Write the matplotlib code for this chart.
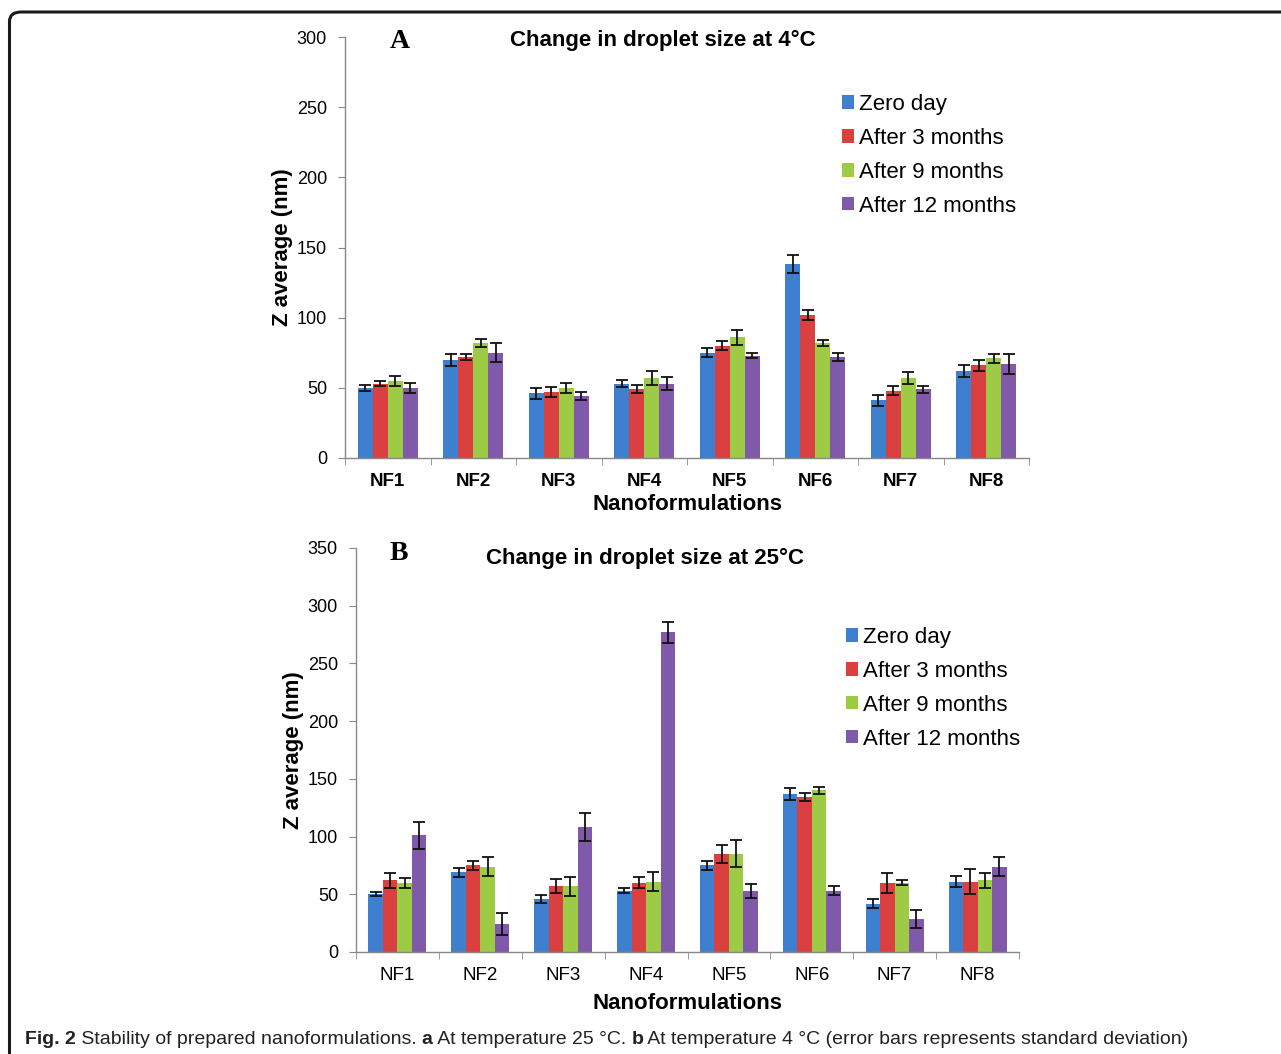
import matplotlib
matplotlib.use("Agg")
import matplotlib.pyplot as plt
from matplotlib.patches import FancyBboxPatch, Patch
import numpy as np

categories = ["NF1", "NF2", "NF3", "NF4", "NF5", "NF6", "NF7", "NF8"]
series = ["Zero day", "After 3 months", "After 9 months", "After 12 months"]
colors = ["#3F7FD0", "#DA4040", "#9DCB45", "#8059AA"]

# Panel A: 4 °C
a_zero = [50, 70, 46, 53, 75, 138, 41, 62]
a_3m = [53, 72, 47, 49, 80, 102, 48, 66]
a_9m = [55, 82, 50, 57, 86, 82, 57, 71]
a_12m = [50, 75, 44, 53, 73, 72, 49, 67]
a_zero_sd = [2.0, 4.3, 3.9, 2.4, 3.3, 6.3, 3.9, 4.6]
a_3m_sd = [2.0, 2.3, 3.6, 3.0, 3.3, 3.8, 3.2, 4.0]
a_9m_sd = [3.4, 3.0, 3.6, 5.2, 5.2, 2.1, 4.0, 3.1]
a_12m_sd = [3.4, 6.8, 3.0, 4.9, 1.8, 3.1, 2.6, 7.1]

# Panel B: 25 °C
b_zero = [50, 69, 46, 53, 75, 137, 42, 61]
b_3m = [62, 75, 57, 60, 85, 134, 60, 61]
b_9m = [60, 74, 57, 61, 85, 140, 60, 62]
b_12m = [101, 24, 108, 277, 53, 53, 29, 74]
b_zero_sd = [1.9, 3.9, 3.6, 2.2, 3.6, 4.9, 4.2, 4.5]
b_3m_sd = [6.6, 3.6, 5.9, 4.9, 7.9, 3.5, 8.7, 10.8]
b_9m_sd = [4.5, 7.9, 8.2, 8.2, 11.7, 2.9, 2.0, 6.6]
b_12m_sd = [11.4, 9.4, 12.1, 9.1, 6.1, 3.8, 7.8, 7.9]

W, H = 1281, 1054
fig = plt.figure(figsize=(W / 100, H / 100), dpi=100)
plt.rcParams["font.family"] = ["Liberation Sans", "DejaVu Sans"]

# frame
frame = FancyBboxPatch((9.5 / W, -0.05), 1.2, (1054 - 12) / H + 0.05,
                       boxstyle="round,pad=0,rounding_size=0.009",
                       transform=fig.transFigure, fill=False,
                       edgecolor="#1a1a1a", linewidth=2.2, clip_on=False)
fig.patches.append(frame)


def panel(rect, vals, sds, ymax, bold_ticks, xlabelpad, ylabelpad, legend_xy):
    ax = fig.add_axes(rect)
    x = np.arange(len(categories))
    w = 0.175
    for i, (v, s) in enumerate(zip(vals, sds)):
        ax.bar(x + (i - 1.5) * w, v, w, color=colors[i], label=series[i],
               yerr=s, capsize=4.2,
               error_kw=dict(ecolor="#111111", elinewidth=1.3, capthick=1.3),
               zorder=2)
    ax.set_xlim(-0.5, len(categories) - 0.5)
    ax.set_ylim(0, ymax)
    ax.set_yticks(np.arange(0, ymax + 1, 50))
    ax.set_xticks(x)
    ax.set_xticklabels(categories, fontsize=13.5,
                       fontweight="bold" if bold_ticks else "normal")
    ax.set_xticks(np.arange(-0.5, len(categories)), minor=True)
    ax.tick_params(axis="x", which="major", length=0, pad=11)
    ax.tick_params(axis="x", which="minor", length=5, color="#888888", direction="out")
    ax.tick_params(axis="y", length=5, color="#888888", labelsize=13, pad=8)
    for sp in ["top", "right"]:
        ax.spines[sp].set_visible(False)
    for sp in ["left", "bottom"]:
        ax.spines[sp].set_color("#888888")
        ax.spines[sp].set_linewidth(1.0)
    ax.set_xlabel("Nanoformulations", fontsize=16, fontweight="bold", labelpad=xlabelpad)
    ax.set_ylabel("Z average (nm)", fontsize=16, fontweight="bold", labelpad=ylabelpad)
    handles = [Patch(facecolor=c) for c in colors]
    lx, ly = legend_xy
    ax.legend(handles, series, loc="upper left",
              bbox_to_anchor=(lx / W, 1 - ly / H), bbox_transform=fig.transFigure,
              frameon=False, fontsize=16, handlelength=0.55, handleheight=0.55,
              handletextpad=0.2, labelspacing=0.58, borderaxespad=0)
    return ax


ax1 = panel([345 / W, 1 - 458 / H, (1029 - 345) / W, (458 - 37) / H],
            [a_zero, a_3m, a_9m, a_12m],
            [a_zero_sd, a_3m_sd, a_9m_sd, a_12m_sd], 300, True, 3, 3, (833, 85))
ax2 = panel([356 / W, 1 - 952 / H, (1019 - 356) / W, (952 - 548) / H],
            [b_zero, b_3m, b_9m, b_12m],
            [b_zero_sd, b_3m_sd, b_9m_sd, b_12m_sd], 350, False, 6, 3, (837, 618))

# titles and letters
fig.text(663 / W, 1 - 40 / H, "Change in droplet size at 4°C", ha="center", va="center",
         fontsize=16, fontweight="bold")
fig.text(400 / W, 1 - 41 / H, "A", ha="center", va="center", fontsize=20,
         fontweight="bold", family=["Liberation Serif", "DejaVu Serif"])
fig.text(645 / W, 1 - 558 / H, "Change in droplet size at 25°C", ha="center", va="center",
         fontsize=16, fontweight="bold")
fig.text(399 / W, 1 - 553 / H, "B", ha="center", va="center", fontsize=20,
         fontweight="bold", family=["Liberation Serif", "DejaVu Serif"])

# caption
cap_fam = ["Liberation Sans Narrow", "Liberation Sans", "DejaVu Sans"]
cy = 1 - 1040 / H
t1 = fig.text(25 / W, cy, "Fig. 2", ha="left", va="center", fontsize=14,
              fontweight="bold", family=cap_fam, color="#222222")
fig.canvas.draw()
r = fig.canvas.get_renderer()
bb = t1.get_window_extent(r)
parts = [(" Stability of prepared nanoformulations. ", "normal"), ("a", "bold"),
         (" At temperature 25 °C. ", "normal"), ("b", "bold"),
         (" At temperature 4 °C (error bars represents standard deviation)", "normal")]
xpos = bb.x1
for txt, wt in parts:
    t = fig.text(xpos / W, cy, txt, ha="left", va="center", fontsize=14,
                 fontweight=wt, family=cap_fam, color="#222222")
    xpos = t.get_window_extent(r).x1

fig.savefig("out.png", dpi=100)
